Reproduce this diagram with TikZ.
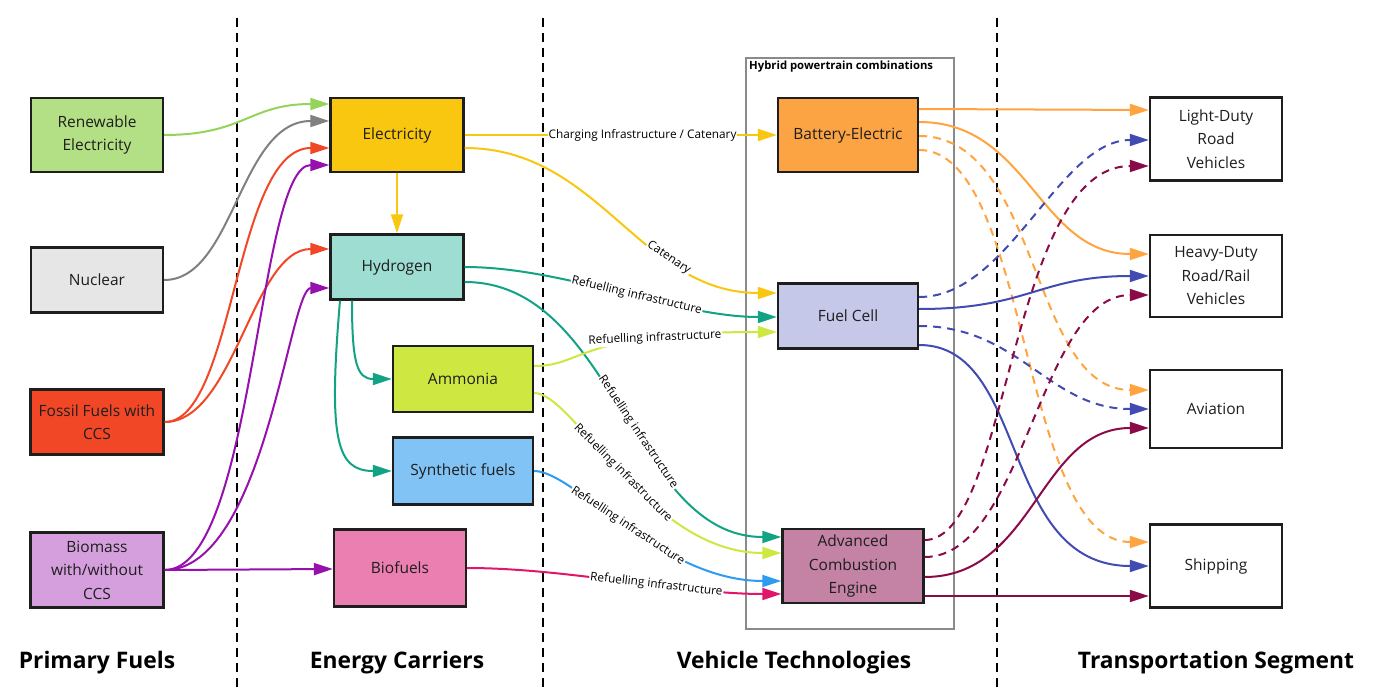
\documentclass[tikz,border=0pt]{standalone}
\usepackage{fontspec}
\setmainfont{Open Sans}
\usetikzlibrary{arrows.meta}
\definecolor{boxline}{HTML}{1E1E1E}
\definecolor{fren}{HTML}{B3E084}
\definecolor{fnuc}{HTML}{E6E6E6}
\definecolor{ffos}{HTML}{F24726}
\definecolor{fbio}{HTML}{D59FDE}
\definecolor{felec}{HTML}{FAC710}
\definecolor{fhyd}{HTML}{9EDDD1}
\definecolor{famm}{HTML}{CEE741}
\definecolor{fsyn}{HTML}{81C3F4}
\definecolor{fbiof}{HTML}{EB7FB1}
\definecolor{fbe}{HTML}{FCA444}
\definecolor{ffc}{HTML}{C5C8E8}
\definecolor{face}{HTML}{C482A5}
\definecolor{cgreen}{HTML}{95D35A}
\definecolor{cgray}{HTML}{808080}
\definecolor{cred}{HTML}{F24726}
\definecolor{cpurple}{HTML}{9510AC}
\definecolor{cyellow}{HTML}{FAC710}
\definecolor{cteal}{HTML}{12A385}
\definecolor{clime}{HTML}{CEE741}
\definecolor{cblue}{HTML}{2D9BF0}
\definecolor{cpink}{HTML}{E0166A}
\definecolor{corange}{HTML}{FFA440}
\definecolor{cfc}{HTML}{414BB2}
\definecolor{cmaroon}{HTML}{8A0B48}
\definecolor{hybridgray}{HTML}{8A8A8A}
\begin{document}
\begin{tikzpicture}[x=1pt,y=-1pt,
  box/.style={draw=boxline, line width=2.4pt, align=center, text=boxline,
    inner sep=2pt, font=\fontsize{15.5}{23.5}\selectfont},
  conn/.style={line width=2pt, -{Triangle[length=19pt,width=12pt]}},
  dconn/.style={conn, dash pattern=on 8pt off 6pt},
  lbl/.style={fill=white, inner sep=1pt, sloped, text=black,
    font=\fontsize{11.8}{13}\selectfont},
  divider/.style={line width=2.2pt, dash pattern=on 9pt off 6pt},
  colhead/.style={font=\fontsize{22.8}{26}\selectfont\bfseries, text=black}
]
\useasboundingbox (0,0) rectangle (1379,695);
\fill[white] (0,0) rectangle (1379,695);

% dividers
\draw[divider] (237,18) coordinate (d1a) -- (237,688) coordinate (d1b);
\draw[divider] (543,18) coordinate (d2a) -- (543,688) coordinate (d2b);
\draw[divider] (997,18) coordinate (d3a) -- (997,688) coordinate (d3b);

% hybrid box
\draw[hybridgray, line width=2pt] (746,58) coordinate (hy1) rectangle (954,629) coordinate (hy2);
\node[anchor=west, inner sep=0pt, font=\fontsize{11.3}{13}\selectfont\bfseries] (hytitle) at (749,67) {Hybrid powertrain combinations};

% nodes
\node[box, fill=fren, minimum width=132pt, minimum height=74pt] (ren) at (97,135) {Renewable\\Electricity};
\node[box, fill=fnuc, minimum width=132pt, minimum height=65pt] (nuc) at (97,280) {Nuclear};
\node[box, fill=ffos, minimum width=133pt, minimum height=65pt] (fos) at (97,422) {Fossil Fuels with\\CCS};
\node[box, fill=fbio, minimum width=133pt, minimum height=75pt] (bio) at (97,570) {Biomass\\with/without\\CCS};
\node[box, fill=felec, minimum width=133pt, minimum height=74pt] (elec) at (397,135) {Electricity};
\node[box, fill=fhyd, minimum width=133pt, minimum height=65pt] (hyd) at (397,267) {Hydrogen};
\node[box, fill=famm, minimum width=140pt, minimum height=66pt] (amm) at (463,379) {Ammonia};
\node[box, fill=fsyn, minimum width=140pt, minimum height=67pt] (syn) at (463,471) {Synthetic fuels};
\node[box, fill=fbiof, minimum width=132pt, minimum height=77pt] (biof) at (400,568) {Biofuels};
\node[box, fill=fbe, minimum width=140pt, minimum height=74pt] (be) at (848,135) {Battery-Electric};
\node[box, fill=ffc, minimum width=140pt, minimum height=65pt] (fc) at (848,316) {Fuel Cell};
\node[box, fill=face, minimum width=141pt, minimum height=74pt] (ace) at (853,566) {Advanced\\Combustion\\Engine};
\node[box, fill=white, minimum width=132pt, minimum height=83pt] (ld) at (1216,139) {Light-Duty\\Road\\Vehicles};
\node[box, fill=white, minimum width=132pt, minimum height=82pt] (hd) at (1216,276) {Heavy-Duty\\Road/Rail\\Vehicles};
\node[box, fill=white, minimum width=132pt, minimum height=78pt] (av) at (1216,409) {Aviation};
\node[box, fill=white, minimum width=132pt, minimum height=83pt] (sh) at (1216,566) {Shipping};

% primary -> carriers
\draw[conn,cgreen] (ren.east) .. controls +(80,0) and +(-80,0) .. (elec.west |- 0,104);
\draw[conn,cgray] (nuc.east) .. controls +(70,0) and +(-90,0) .. (elec.west |- 0,121);
\draw[conn,cred] (fos.east) .. controls +(70,0) and +(-95,0) .. (elec.west |- 0,148);
\draw[conn,cred] (fos.east) .. controls +(70,0) and +(-77,0) .. (hyd.west |- 0,249);
\draw[conn,cpurple] (bio.east) .. controls +(90,0) and +(-72,0) .. (elec.west |- 0,165);
\draw[conn,cpurple] (bio.east) .. controls +(100,0) and +(-40,0) .. (hyd.west |- 0,288);
\draw[conn,cpurple] (bio.east) -- (biof.west |- 0,569);

% carriers -> carriers
\draw[conn,cyellow] (elec.south) -- (hyd.north);
\draw[conn,cteal] (hyd.south -| 352,0) .. controls +(0,62) and +(-35,0) .. (amm.west);
\draw[conn,cteal] (hyd.south -| 340,0) .. controls +(-12,140) and +(-55,0) .. (syn.west);

% carriers -> vehicle technologies
\draw[conn,cyellow] (elec.east) -- (be.west) node[lbl,pos=0.57] {Charging Infrastructure / Catenary};
\draw[conn,cyellow] (elec.east |- 0,148) .. controls +(135,0) and +(-137,0) .. (fc.west |- 0,293) node[lbl,pos=0.68] {Catenary};
\draw[conn,cteal] (hyd.east) .. controls +(100,0) and +(-100,0) .. (fc.west |- 0,317) node[lbl,pos=0.55] {Refuelling infrastructure};
\draw[conn,cteal] (hyd.east |- 0,282) .. controls +(150,0) and +(-150,0) .. (ace.west |- 0,537) node[lbl,pos=0.56] {Refuelling infrastructure};
\draw[conn,clime] (amm.east |- 0,366) .. controls +(50,0) and +(-200,0) .. (fc.west |- 0,332) node[lbl,pos=0.73,sloped=false,rotate=2.5] {Refuelling infrastructure};
\draw[conn,clime] (amm.east |- 0,393) .. controls +(40,0) and +(-133,0) .. (ace.west |- 0,553) node[lbl,pos=0.5] {Refuelling infrastructure};
\draw[conn,cblue] (syn.east) .. controls +(40,0) and +(-120,0) .. (ace.west |- 0,581) node[lbl,pos=0.5] {Refuelling infrastructure};
\draw[conn,cpink] (biof.east) .. controls +(100,0) and +(-100,0) .. (ace.west |- 0,594) node[lbl,pos=0.6] {Refuelling infrastructure};

% vehicle technologies -> segments
\draw[conn,corange] (be.east |- 0,109) -- (ld.west |- 0,110);
\draw[conn,corange] (be.east |- 0,122) .. controls +(110,0) and +(-110,0) .. (hd.west |- 0,254);
\draw[dconn,corange] (be.east |- 0,136) .. controls +(121,0) and +(-119,0) .. (av.west |- 0,390);
\draw[dconn,corange] (be.east |- 0,150) .. controls +(111,0) and +(-129,0) .. (sh.west |- 0,542);
\draw[dconn,cfc] (fc.east |- 0,297) .. controls +(90,0) and +(-90,0) .. (ld.west |- 0,140);
\draw[conn,cfc] (fc.east |- 0,309) .. controls +(110,0) and +(-110,0) .. (hd.west |- 0,276);
\draw[dconn,cfc] (fc.east |- 0,326) .. controls +(100,0) and +(-100,0) .. (av.west |- 0,409);
\draw[conn,cfc] (fc.east |- 0,345) .. controls +(110,0) and +(-150,0) .. (sh.west |- 0,566);
\draw[dconn,cmaroon] (ace.east |- 0,540) .. controls +(85,0) and +(-140,0) .. (ld.west |- 0,166);
\draw[dconn,cmaroon] (ace.east |- 0,557) .. controls +(100,0) and +(-110,0) .. (hd.west |- 0,295);
\draw[conn,cmaroon] (ace.east |- 0,577) .. controls +(110,0) and +(-110,0) .. (av.west |- 0,428);
\draw[conn,cmaroon] (ace.east |- 0,596) -- (sh.west |- 0,596);

% column headings
\node[colhead] (h1) at (97,663) {Primary Fuels};
\node[colhead] (h2) at (397,663) {Energy Carriers};
\node[colhead] (h3) at (794,663) {Vehicle Technologies};
\node[colhead] (h4) at (1216,663) {Transportation Segment};
\end{tikzpicture}
\end{document}
